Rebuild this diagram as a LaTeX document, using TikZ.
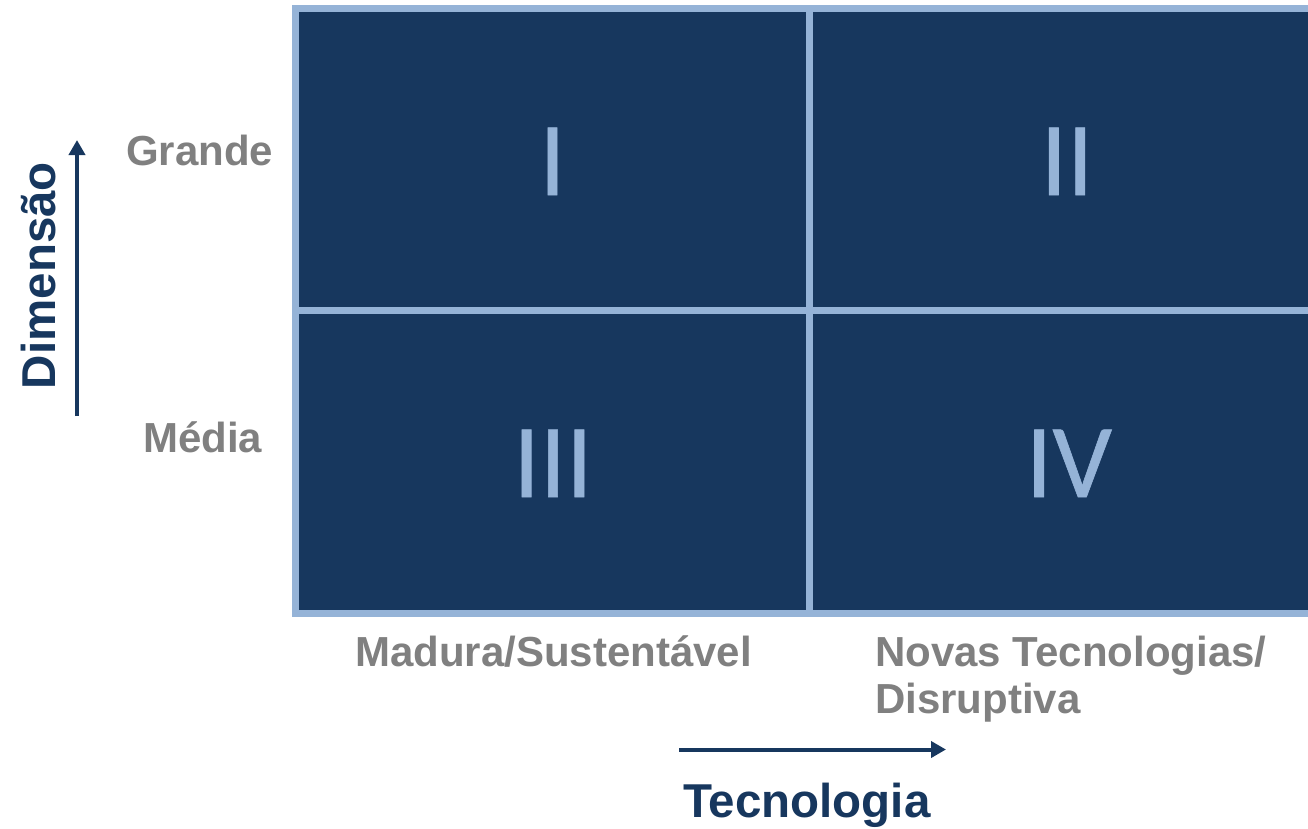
\documentclass[tikz,border=0pt]{standalone}
\usepackage{fontspec}
\setmainfont{Liberation Sans}
\newfontfamily\numfont[FakeBold=0.6]{Carlito}
\usetikzlibrary{arrows.meta}
\definecolor{darkblue}{HTML}{17375E}
\definecolor{lightblue}{HTML}{95B3D7}
\definecolor{labelgray}{HTML}{808080}
\tikzset{
  cell/.style={fill=darkblue, draw=lightblue, line width=7pt},
  numeral/.style={inner sep=0pt, anchor=base, text=lightblue, font=\numfont\fontsize{105}{110}\selectfont},
  graylabel/.style={inner sep=0pt, anchor=base west, text=labelgray, font=\bfseries\fontsize{42}{48}\selectfont},
  axislabel/.style={inner sep=0pt, text=darkblue, font=\bfseries\fontsize{47.5}{54}\selectfont},
  axisarrow/.style={draw=darkblue, line width=4pt, -{Triangle[length=15pt,width=16pt]}}
}
\begin{document}
\begin{tikzpicture}[x=1pt,y=-1pt]
\useasboundingbox (0,0) rectangle (1308,828);
\begin{scope}
\clip (0,0) rectangle (1308,828);
\draw[cell] (295.5,8.5) rectangle (1324,613);
\draw[draw=lightblue, line width=7pt] (809.5,8.5) -- (809.5,613);
\draw[draw=lightblue, line width=7pt] (295.5,310.5) -- (1324,310.5);
\end{scope}
% numerals
\node[numeral] (n1) at (552.5,195) {I};
\node[numeral] (n2) at (1067,195) {II};
\node[numeral] (n3) at (553,497) {III};
\node[numeral] (n4) at (1069,497) {IV};
% row labels
\node[graylabel] (grande) at (126,165) {Grande};
\node[graylabel] (media) at (143,452) {Média};
% column labels
\node[graylabel] (madura) at (355,666) {Madura/Sustentável};
\node[graylabel] (novas) at (875,666) {Novas Tecnologias/};
\node[graylabel] (disr) at (875,713) {Disruptiva};
% axes
\coordinate (vstart) at (77,416);
\coordinate (vend) at (77,140);
\draw[axisarrow] (vstart) -- (vend);
\coordinate (hstart) at (679,749.5);
\coordinate (hend) at (946,749.5);
\draw[axisarrow] (hstart) -- (hend);
\node[axislabel, anchor=base west] (tec) at (683,817) {Tecnologia};
\node[axislabel, anchor=base, rotate=90] (dim) at (55,275.5) {Dimensão};
\end{tikzpicture}
\end{document}
